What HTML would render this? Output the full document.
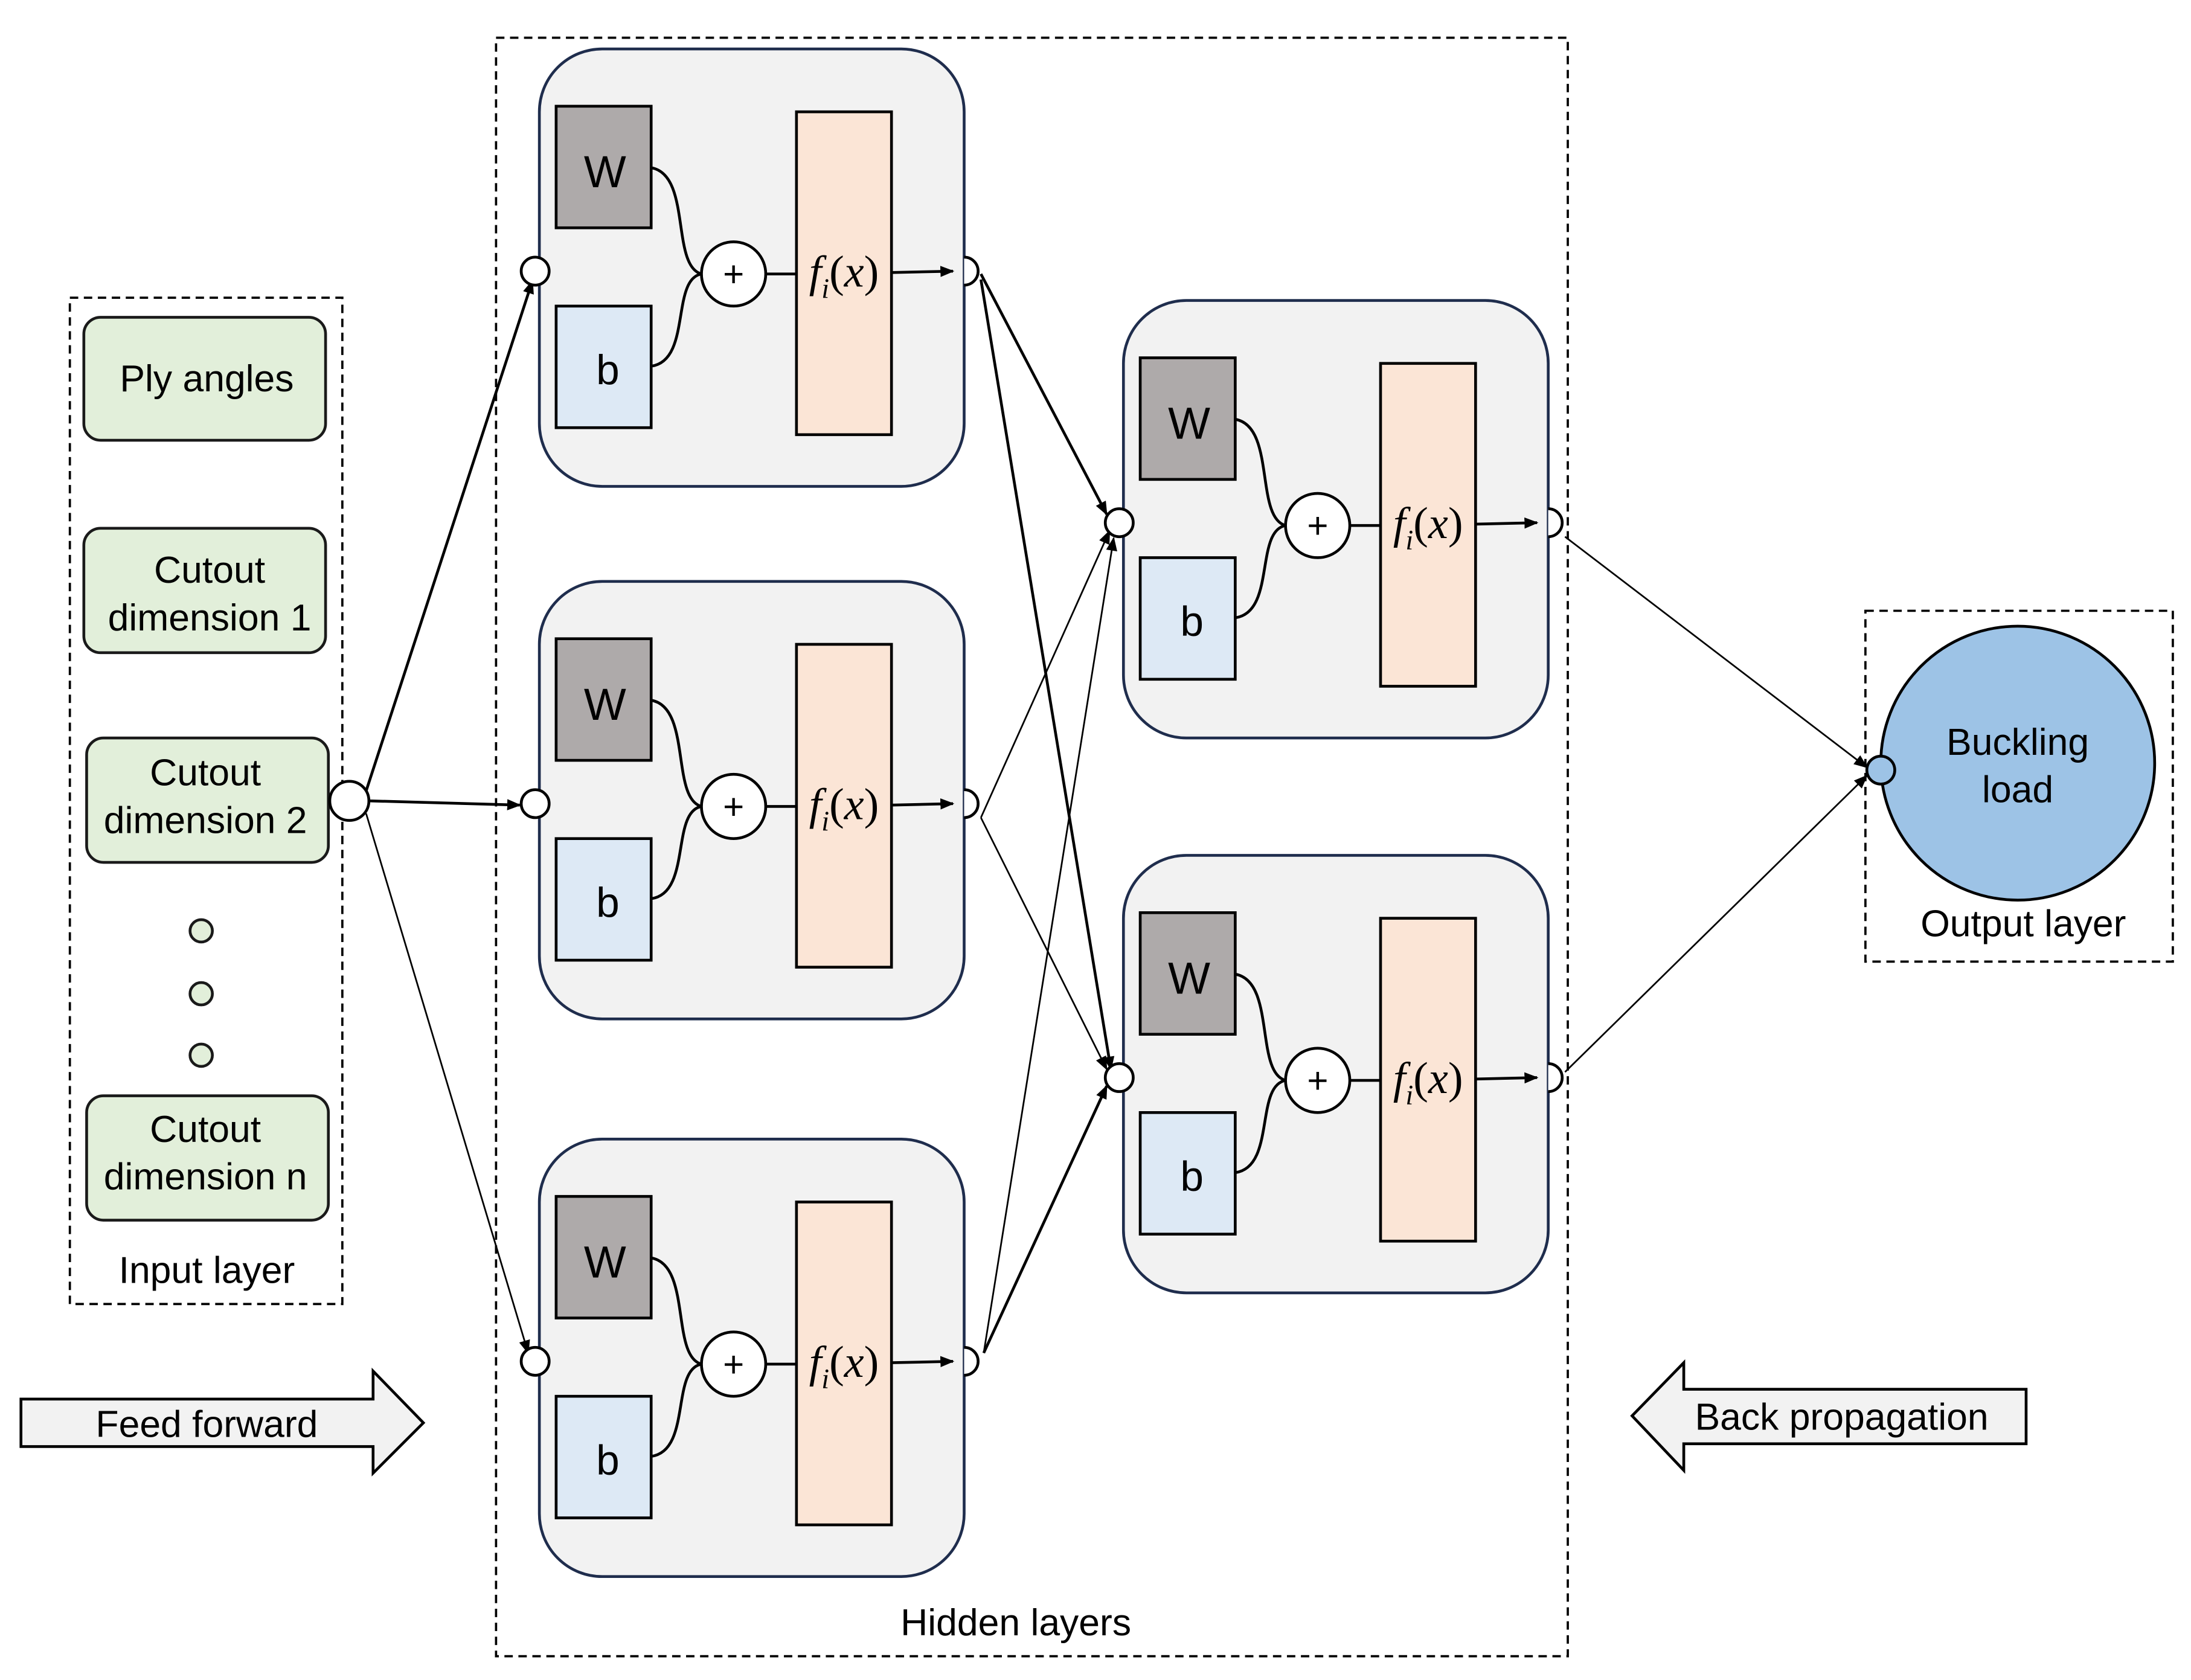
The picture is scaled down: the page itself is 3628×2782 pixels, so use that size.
<!DOCTYPE html>
<html><head><meta charset="utf-8"><style>
html,body{margin:0;padding:0;background:#fff}
svg{display:block}
text{font-family:"Liberation Sans",sans-serif;fill:#000}
</style></head><body>
<svg width="3628" height="2782" viewBox="0 0 1568 1202" preserveAspectRatio="none" xmlns="http://www.w3.org/2000/svg">
<defs>
<marker id="ah" markerWidth="10" markerHeight="8" refX="9" refY="4" orient="auto" markerUnits="userSpaceOnUse">
<path d="M0,0 L10,4 L0,8 z" fill="#000"/></marker>
</defs>
<rect x="0" y="0" width="1568" height="1202" fill="#fff"/>

<rect x="50" y="213" width="195" height="720" fill="none" stroke="#000" stroke-width="1.6" stroke-dasharray="6,4"/>
<g stroke="#1a1a1a" stroke-width="2" fill="#e2efda">
<rect x="60" y="227" width="173" height="88" rx="12"/>
<rect x="60" y="378" width="173" height="89" rx="12"/>
<rect x="62" y="528" width="173" height="89" rx="12"/>
<rect x="62" y="784" width="173" height="89" rx="12"/>
<circle cx="144" cy="666" r="8"/><circle cx="144" cy="711" r="8"/><circle cx="144" cy="755" r="8"/>
</g>
<g font-size="27" text-anchor="middle">
<text x="148" y="280">Ply angles</text>
<text x="150" y="417">Cutout</text><text x="150" y="451">dimension 1</text>
<text x="147" y="562">Cutout</text><text x="147" y="596">dimension 2</text>
<text x="147" y="817">Cutout</text><text x="147" y="851">dimension n</text>
<text x="148" y="918">Input layer</text>
</g>
<circle cx="250" cy="573" r="14" fill="#fff" stroke="#000" stroke-width="2"/>

<rect x="355" y="27" width="767" height="1158" fill="none" stroke="#000" stroke-width="1.6" stroke-dasharray="6,4"/>
<text x="727" y="1170" font-size="27" text-anchor="middle">Hidden layers</text>

<g stroke="#000" fill="none" marker-end="url(#ah)">
<line x1="262" y1="566" x2="381" y2="201" stroke-width="2"/>
<line x1="264" y1="573" x2="372" y2="576" stroke-width="2"/>
<line x1="262" y1="582" x2="378" y2="968" stroke-width="1.2"/>
<line x1="702" y1="196" x2="792" y2="368" stroke-width="2"/>
<line x1="702" y1="200" x2="795" y2="765" stroke-width="2"/>
<line x1="702" y1="585" x2="794" y2="380" stroke-width="1.2"/>
<line x1="702" y1="585" x2="792" y2="765" stroke-width="1.2"/>
<line x1="704" y1="968" x2="797" y2="385" stroke-width="1.2"/>
<line x1="704" y1="968" x2="792" y2="777" stroke-width="2"/>
<line x1="1120" y1="384" x2="1336" y2="549" stroke-width="1.2"/>
<line x1="1120" y1="767" x2="1336" y2="555" stroke-width="1.2"/>
</g>

<g id="blk">
<rect x="386" y="35" width="304" height="313" rx="45" fill="#f2f2f2" stroke="#1f2d4d" stroke-width="2"/>
<rect x="398" y="76" width="68" height="87" fill="#aeaaaa" stroke="#000" stroke-width="2"/>
<rect x="398" y="219" width="68" height="87" fill="#dde9f5" stroke="#000" stroke-width="2"/>
<rect x="570" y="80" width="68" height="231" fill="#fbe5d6" stroke="#000" stroke-width="2"/>
<path d="M466,120 C495,125 480,190 502,196 M466,262 C495,258 480,200 502,196 M548,196 L570,196" fill="none" stroke="#000" stroke-width="2"/>
<circle cx="525" cy="196" r="23" fill="#fff" stroke="#000" stroke-width="2"/>
<line x1="638" y1="195" x2="682" y2="194" stroke="#000" stroke-width="2" marker-end="url(#ah)"/>
<circle cx="383" cy="194" r="10" fill="#fff" stroke="#000" stroke-width="2"/>
<path d="M690,184 A10,10 0 0 1 690,204" fill="#fff" stroke="#000" stroke-width="2"/>
<text x="433" y="134" font-size="32" text-anchor="middle">W</text>
<text x="435" y="275" font-size="30" text-anchor="middle">b</text>
<text x="525" y="205" font-size="26" text-anchor="middle">+</text>
<text x="604" y="205" font-size="32" text-anchor="middle" style="font-family:'Liberation Serif',serif;font-style:italic">f<tspan font-size="20" dy="8">i</tspan><tspan dy="-8" style="font-style:normal">(</tspan>x<tspan style="font-style:normal">)</tspan></text>
</g>
<use href="#blk" transform="translate(0,381)"/>
<use href="#blk" transform="translate(0,780)"/>
<use href="#blk" transform="translate(418,180)"/>
<use href="#blk" transform="translate(418,577)"/>

<rect x="1335" y="437" width="220" height="251" fill="none" stroke="#000" stroke-width="1.6" stroke-dasharray="6,4"/>
<circle cx="1444" cy="546" r="98" fill="#9dc3e6" stroke="#000" stroke-width="2"/>
<circle cx="1346" cy="551" r="10" fill="#9dc3e6" stroke="#000" stroke-width="2"/>
<g font-size="27" text-anchor="middle">
<text x="1444" y="540">Buckling</text><text x="1444" y="574">load</text>
<text x="1448" y="670">Output layer</text>
</g>

<path d="M15,1001 L267,1001 L267,981 L303,1018 L267,1054 L267,1035 L15,1035 Z" fill="#f2f2f2" stroke="#000" stroke-width="2"/>
<text x="148" y="1028" font-size="27" text-anchor="middle">Feed forward</text>
<path d="M1450,994 L1205,994 L1205,975 L1168,1013 L1205,1052 L1205,1033 L1450,1033 Z" fill="#f2f2f2" stroke="#000" stroke-width="2"/>
<text x="1318" y="1023" font-size="27" text-anchor="middle">Back propagation</text>
</svg>
</body></html>
